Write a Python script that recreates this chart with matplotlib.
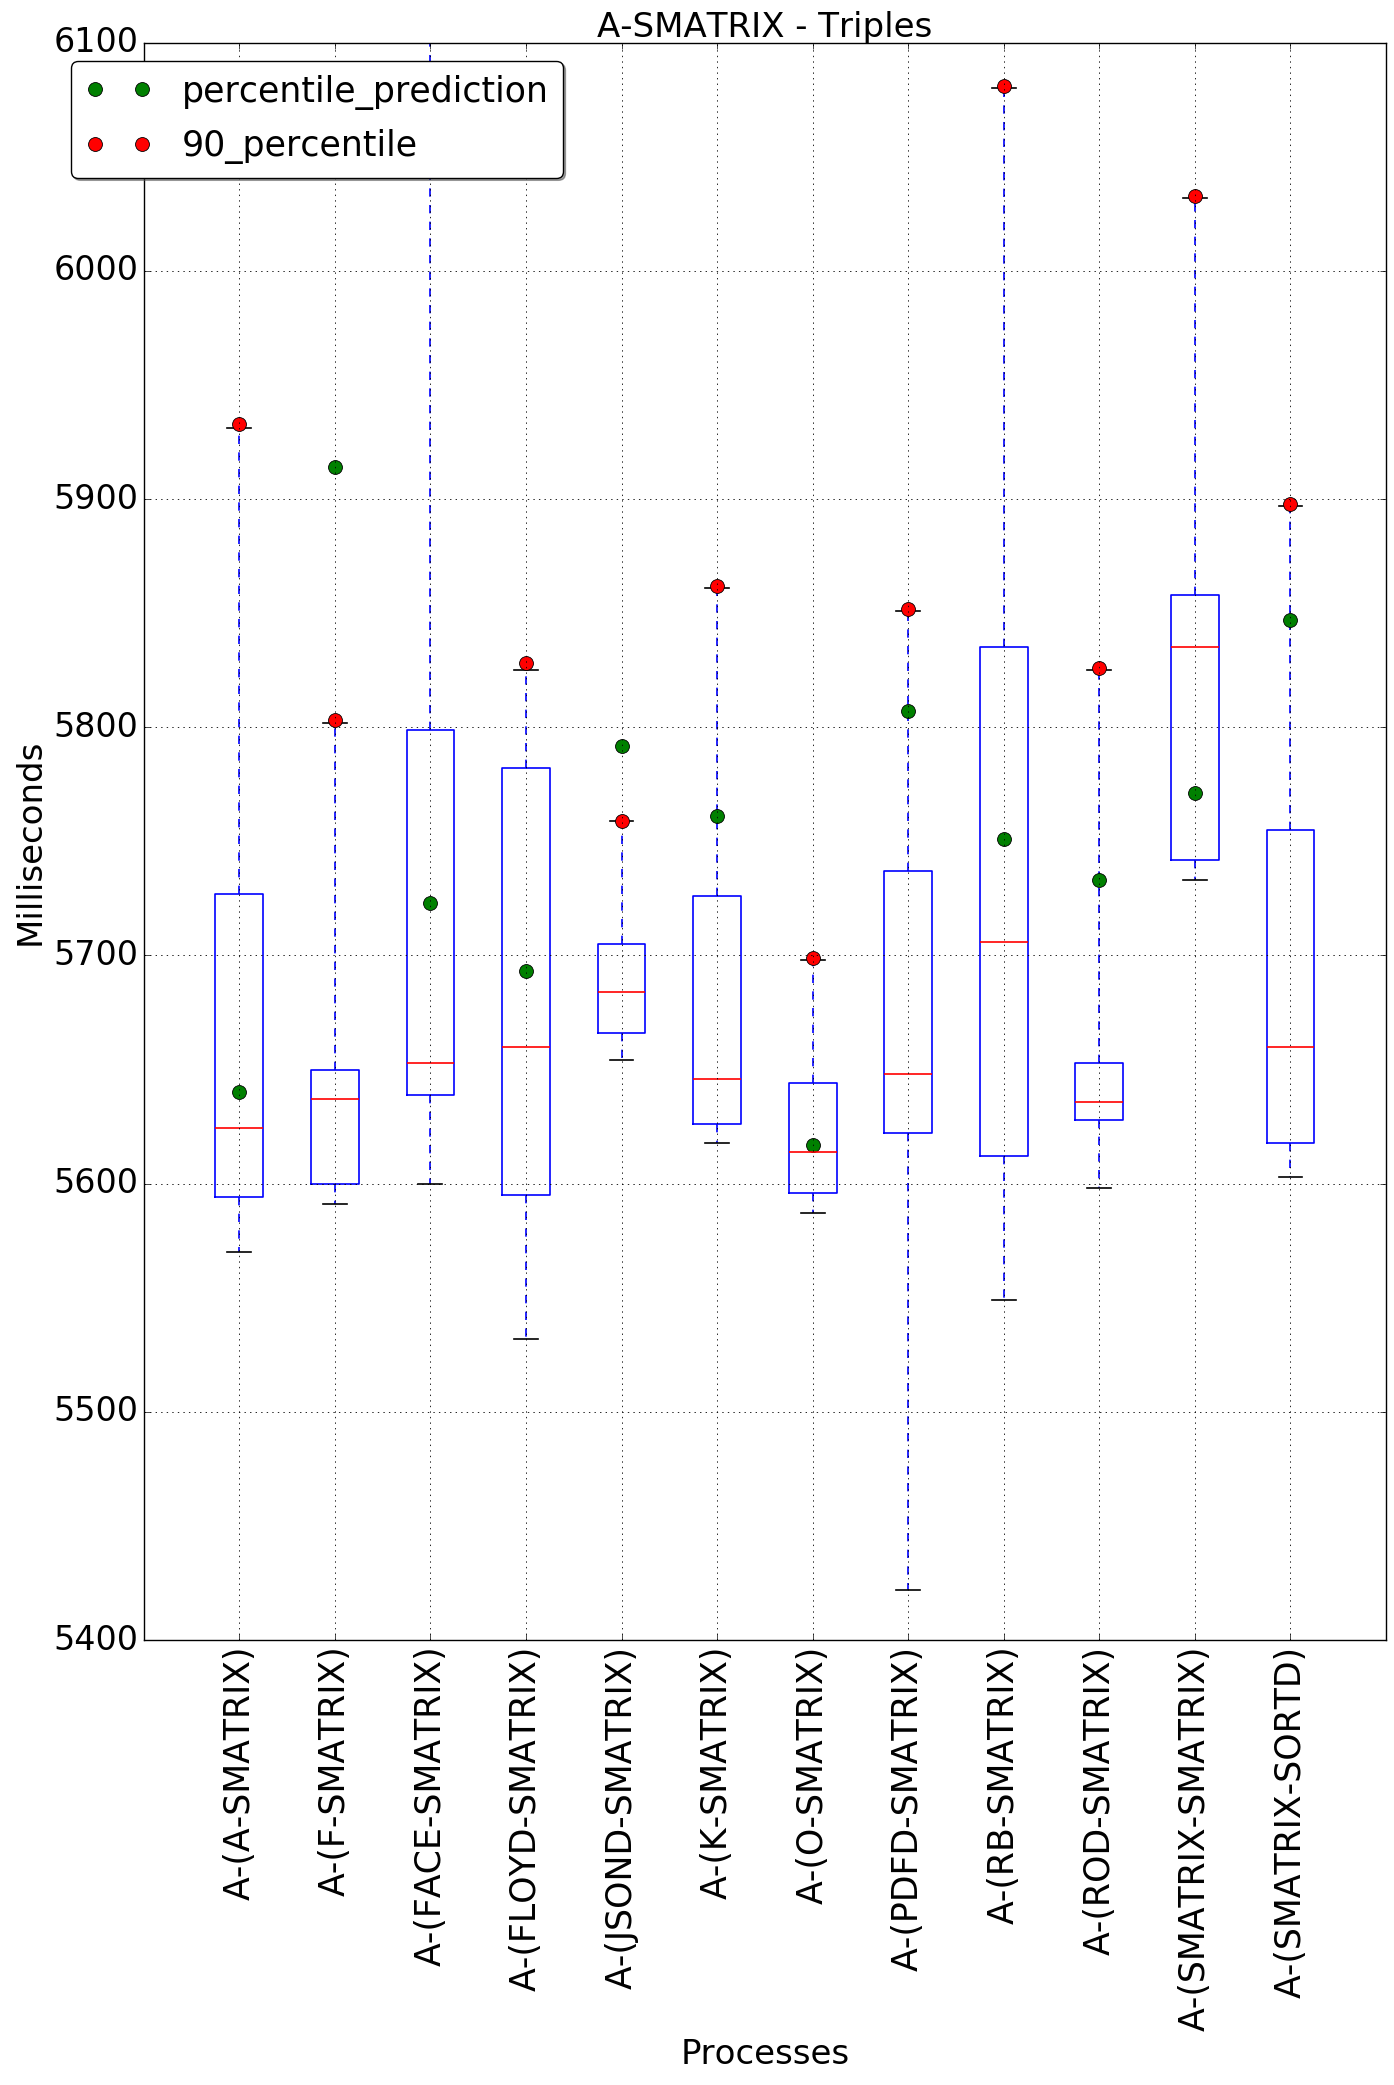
import matplotlib
matplotlib.use('Agg')
import matplotlib.pyplot as plt

labels = ['A-(A-SMATRIX)', 'A-(F-SMATRIX)', 'A-(FACE-SMATRIX)', 'A-(FLOYD-SMATRIX)',
          'A-(JSOND-SMATRIX)', 'A-(K-SMATRIX)', 'A-(O-SMATRIX)', 'A-(PDFD-SMATRIX)',
          'A-(RB-SMATRIX)', 'A-(ROD-SMATRIX)', 'A-(SMATRIX-SMATRIX)', 'A-(SMATRIX-SORTD)']

whislo = [5570, 5591, 5600, 5532, 5654, 5618, 5587, 5422, 5549, 5598, 5733, 5603]
q1 = [5594, 5600, 5639, 5595, 5666, 5626, 5596, 5622, 5612, 5628, 5742, 5618]
med = [5624.5, 5637, 5653, 5660, 5684, 5646, 5614, 5648, 5706, 5636, 5835, 5660]
q3 = [5727, 5650, 5799, 5782, 5705, 5726, 5644, 5737, 5835, 5653, 5858, 5755]
whishi = [5931, 5802, 6160, 5825, 5759, 5861, 5698, 5851, 6080, 5825, 6032, 5897]
p90 = [5933, 5803, 6160, 5828, 5759, 5862, 5699, 5852, 6081, 5826, 6033, 5898]
pred = [5640, 5914, 5723, 5693, 5792, 5761, 5617, 5807, 5751, 5733, 5771, 5847]

plt.style.use('classic')
plt.rcParams['font.family'] = ['DejaVu Sans']
# old-style text layout (next to no kerning), wider labels like the original
plt.rcParams['text.kerning_factor'] = 6

fig = plt.figure(figsize=(13.94, 20.85), dpi=100, facecolor='white')
ax = fig.add_axes([0.1031, 0.2134, 0.8912, 0.7661])

stats = []
for i in range(len(labels)):
    stats.append({'whislo': whislo[i], 'q1': q1[i], 'med': med[i],
                  'q3': q3[i], 'whishi': whishi[i], 'fliers': []})

positions = list(range(1, len(labels) + 1))
ax.bxp(stats, positions=positions, widths=0.5, showfliers=False,
       boxprops=dict(color='b', linewidth=1.2),
       whiskerprops=dict(color='b', linestyle='--', linewidth=1.2),
       capprops=dict(color='k', linewidth=1.2),
       medianprops=dict(color='r', linewidth=1.2))

ax.plot(positions, pred, 'o', color='g', markersize=10, markeredgecolor='k',
        markeredgewidth=0.6, label='percentile_prediction')
ax.plot(positions, p90, 'o', color='r', markersize=10, markeredgecolor='k',
        markeredgewidth=0.6, label='90_percentile')

ax.set_xlim(0, 13)
ax.set_ylim(5400, 6100)
ax.set_yticks(range(5400, 6101, 100))
ax.set_xticks(positions)
ax.set_xticklabels(labels, rotation=90, fontsize=25)
ax.tick_params(axis='y', labelsize=24)
ax.grid(True, color='k', linestyle=':', linewidth=0.6)

ax.set_title('A-SMATRIX - Triples', fontsize=24.5, pad=4)
ax.set_xlabel('Processes', fontsize=24.5)
ax.set_ylabel('Milliseconds', fontsize=24.5)

ax.legend(loc='upper left', bbox_to_anchor=(0.0507, 0.9709), bbox_transform=fig.transFigure,
          borderaxespad=0, numpoints=2, fancybox=True, shadow=True, fontsize=25,
          labelspacing=0.55, handletextpad=0.85, handlelength=1.95)

fig.savefig('out.png', dpi=100, facecolor='white')
